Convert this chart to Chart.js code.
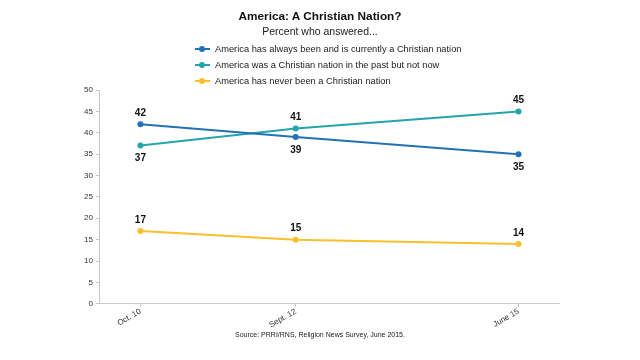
<!DOCTYPE html>
<html>
<head>
<meta charset="utf-8">
<script src="https://cdn.jsdelivr.net/npm/chart.js@4/dist/chart.umd.min.js"></script>
<style>
  html, body { margin:0; padding:0; background:#fff; }
  #wrap { position:relative; width:640px; height:360px; font-family:"Liberation Sans", Arial, sans-serif; }
  #c { position:absolute; left:0; top:0; }
  .title { position:absolute; left:0; width:640px; top:9px; text-align:center; font-weight:bold; font-size:11.8px; color:#111; }
  .sub { position:absolute; left:0; width:640px; top:25px; text-align:center; font-size:10.5px; color:#222; }
  #legend { position:absolute; left:195px; top:41px; font-size:9.3px; color:#222; }
  .li { height:16px; line-height:16px; display:flex; align-items:center; }
  .mk { position:relative; width:15px; height:16px; margin-right:5px; }
  .mk .ln { position:absolute; left:0; width:15px; top:7px; height:2px; }
  .mk .dt { position:absolute; left:4px; top:5px; width:6px; height:6px; border-radius:50%; }
  .src { position:absolute; left:0; width:640px; top:331px; text-align:center; font-size:7px; color:#222; }
</style>
</head>
<body>
<div id="wrap">
  <canvas id="c" width="640" height="360"></canvas>
  <div class="title">America: A Christian Nation?</div>
  <div class="sub">Percent who answered...</div>
  <div id="legend"></div>
  <div class="src">Source: PRRI/RNS, Religion News Survey, June 2015.</div>
</div>
<script>
// Survey dates as months since Oct 2010
const surveyMonths = [0, 23, 56];
const tickLabels = ["Oct. 10", "Sept. 12", "June 15"];
const seriesNames = [
  "America has always been and is currently a Christian nation",
  "America was a Christian nation in the past but not now",
  "America has never been a Christian nation"
];
const alwaysValues = [42, 39, 35];
const pastValues = [37, 41, 45];
const neverValues = [17, 15, 14];
const seriesColors = ["#2272b5", "#25a4ab", "#fbbf2c"];
const labelPlacement = [["above","below","below"],["below","above","above"],["above","above","above"]];

const allValues = [alwaysValues, pastValues, neverValues];

// HTML legend
const lg = document.getElementById('legend');
seriesNames.forEach((n, i) => {
  const d = document.createElement('div'); d.className = 'li';
  d.innerHTML = '<span class="mk"><span class="ln" style="background:' + seriesColors[i] + '"></span><span class="dt" style="background:' + seriesColors[i] + '"></span></span><span></span>';
  d.lastChild.textContent = n;
  lg.appendChild(d);
});

const datasets = allValues.map((vals, i) => ({
  label: seriesNames[i],
  data: vals.map((v, j) => ({x: surveyMonths[j], y: v})),
  borderColor: seriesColors[i],
  backgroundColor: seriesColors[i],
  borderWidth: 2,
  pointRadius: 3,
  pointBorderWidth: 0,
  pointHoverRadius: 3,
  tension: 0
}));

const dataLabels = {
  id: 'dataLabels',
  afterDatasetsDraw(chart) {
    const ctx = chart.ctx;
    ctx.save();
    ctx.font = 'bold 10px "Liberation Sans", Arial, sans-serif';
    ctx.fillStyle = '#111';
    ctx.textAlign = 'center';
    ctx.textBaseline = 'middle';
    chart.data.datasets.forEach((ds, i) => {
      const meta = chart.getDatasetMeta(i);
      meta.data.forEach((pt, j) => {
        const off = labelPlacement[i][j] === 'above' ? -11 : 13;
        ctx.fillText(String(allValues[i][j]), pt.x, pt.y + off);
      });
    });
    ctx.restore();
  }
};

new Chart(document.getElementById('c'), {
  type: 'line',
  data: { datasets },
  options: {
    responsive: false,
    animation: false,
    layout: { padding: { left: 81, right: 81, top: 90, bottom: 30 } },
    plugins: { legend: { display: false }, tooltip: { enabled: false } },
    scales: {
      x: {
        type: 'linear',
        min: -6, max: 62,
        afterBuildTicks(axis) { axis.ticks = surveyMonths.map(v => ({value: v})); },
        ticks: {
          callback(v) { const k = surveyMonths.indexOf(v); return k >= 0 ? tickLabels[k] : ''; },
          minRotation: 30, maxRotation: 30,
          font: { size: 8, family: '"Liberation Sans", Arial, sans-serif' },
          color: '#333',
          padding: 0
        },
        grid: { drawOnChartArea: false, tickLength: 3, color: '#c8c8c8' },
        border: { color: '#c8c8c8' }
      },
      y: {
        min: 0, max: 50,
        ticks: { stepSize: 5, font: { size: 8, family: '"Liberation Sans", Arial, sans-serif' }, color: '#333', padding: 3 },
        grid: { drawOnChartArea: false, tickLength: 4, color: '#c8c8c8' },
        border: { color: '#c8c8c8' }
      }
    }
  },
  plugins: [dataLabels]
});
</script>
</body>
</html>
